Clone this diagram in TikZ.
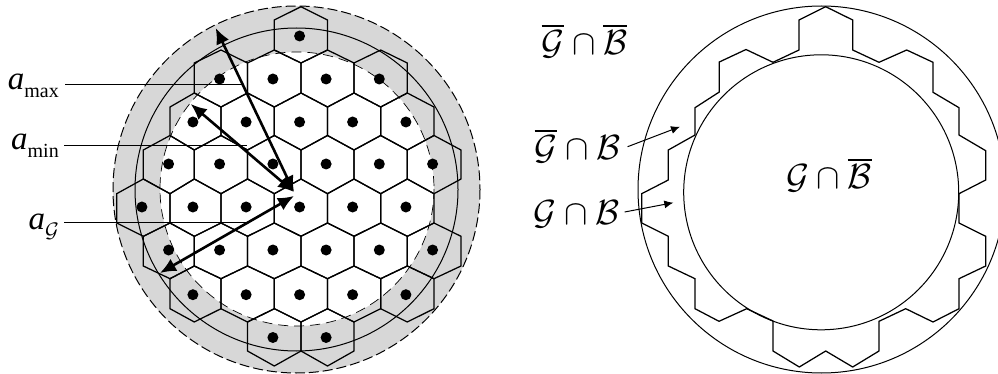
\documentclass[tikz,border=0pt]{standalone}
\usepackage{fix-cm}
\usepackage{amsmath,amssymb}
\usepackage{fontspec}
\setmainfont{Liberation Serif}
\usepackage{tikz}
\usetikzlibrary{arrows.meta}

\definecolor{ringgray}{HTML}{D7D7D7}
\newcommand{\labelfont}{\fontsize{33}{33}\selectfont\itshape}
\newcommand{\symfont}{\fontsize{35}{35}\selectfont}
\newcommand{\lowsub}[1]{\raisebox{-7.5pt}{\fontsize{20}{20}\selectfont\upshape #1}}

\begin{document}
\begin{tikzpicture}[
    x=1pt, y=-1pt,
    >=Latex,
    hexline/.style={line width=1.25pt, line join=miter},
    circ/.style={line width=1pt},
    dashcirc/.style={line width=1pt, dash pattern=on 10pt off 4pt},
    thindash/.style={line width=.7pt, dash pattern=on 10pt off 6pt},
    radius/.style={{Latex[length=16pt,width=14pt]}-{Latex[length=16pt,width=14pt]}, line width=2.6pt},
    leader/.style={line width=1pt},
    pointer/.style={-{Latex[length=9pt,width=8pt]}, line width=1pt},
    dotmark/.style={circle, fill=black, inner sep=0pt, minimum size=11pt},
    lbl/.style={inner sep=0pt, font=\labelfont},
    setlbl/.style={inner sep=0pt, font=\symfont}
]
\path[use as bounding box, clip] (0,0) rectangle (998,374);

% Left disc: shaded ring between the two dashed radii.
\fill[ringgray] (296.5,189.5) circle (183.5);
\fill[white] (297,189) circle (137);
\draw[dashcirc] (296.5,189.5) circle (183.5);
\draw[thindash] (297,189) circle (137);

% Honeycomb cells and their centre dots (column/row of each cell).
\def\colx{{116.7,143.3,170,194.3,221,247.5,274.3,301,327.5,354,380.7,407.3,434,461}}
\def\rowa{{6.7,50,93,135.5,179,223,266,308.7,351}}
\def\rowb{{20,63,107,150,193.7,236.3,278.7,322,366}}
\def\rowd{{36,79,122,164,207,250,294.7,337.5}}
\foreach \c/\k in {7/0,
    4/1,6/1,8/1,10/1,
    3/2,5/2,7/2,9/2,11/2,
    2/3,4/3,6/3,8/3,10/3,12/3,
    1/4,3/4,5/4,7/4,9/4,11/4,
    2/5,4/5,6/5,8/5,10/5,12/5,
    3/6,5/6,7/6,9/6,11/6,
    6/7,8/7}{
  \pgfmathsetmacro{\xl}{\colx[\c-1]}
  \pgfmathsetmacro{\xm}{\colx[\c]}
  \pgfmathsetmacro{\xr}{\colx[\c+1]}
  \pgfmathsetmacro{\ya}{\rowa[\k]}
  \pgfmathsetmacro{\yb}{\rowb[\k]}
  \pgfmathsetmacro{\yc}{\rowa[\k+1]}
  \pgfmathsetmacro{\yd}{\rowb[\k+1]}
  \pgfmathsetmacro{\ydot}{\rowd[\k]}
  \draw[hexline] (\xm,\ya) -- (\xr,\yb) -- (\xr,\yc) -- (\xm,\yd) -- (\xl,\yc) -- (\xl,\yb) -- cycle;
  \node[dotmark] (dot-\c-\k) at (\xm-1.4,\ydot) {};
}
\draw[circ] (296.5,189.5) circle (161.5);

% Radii from the centre of the disc.
\coordinate (centre) at (294,192);
\coordinate (centreG) at (294,196);
\coordinate (tipmax) at (215.7,28);
\coordinate (tipmin) at (190.7,104);
\coordinate (tipG) at (160,273);
\draw[radius] (tipmax) -- (centre);
\draw[radius] (tipmin) -- (centre);
\draw[radius] (tipG) -- (centreG);

% Radius labels.
\node[lbl, anchor=base east] (amax) at (59,90) {a\lowsub{max}};
\node[lbl, anchor=base east] (amin) at (59,150) {a\lowsub{min}};
\node[lbl, anchor=base east] (ag) at (59,229.5) {a\raisebox{-7.5pt}{\fontsize{21}{21}\selectfont$\mathcal{G}$}};
\coordinate (endmax) at (242,85);
\coordinate (endmin) at (247,145.7);
\coordinate (endg) at (248,222.3);
\draw[leader] (amax.east |- endmax) ++(6,0) -- (endmax);
\draw[leader] (amin.east |- endmin) ++(5,0) -- (endmin);
\draw[leader] (ag.east |- endg) ++(5,0) -- (endg);

% Right disc: the same cell outline between two circles.
\draw[circ] (821.5,189.5) circle (183.5);
\draw[circ] (821.2,192.3) circle (137.5);
\draw[hexline] (825.7,6.7) -- (852.7,20) -- (852.7,50) -- (879,62.3) -- (906.7,50) -- (933,62.3)
  -- (933,92.3) -- (959,107.7) -- (959,135) -- (985.7,150.7) -- (985.7,180) -- (959,193.7)
  -- (959,223) -- (985.7,236.3) -- (985.7,266) -- (959,278.7) -- (959,308.7) -- (933,322)
  -- (905.7,308.7) -- (879,321.3) -- (879,351) -- (852.7,367) -- (825.7,351) -- (799.3,367)
  -- (773,351) -- (773,321) -- (746.7,308.7) -- (719,321.3) -- (695,308.7) -- (695,278.7)
  -- (668.3,266) -- (668.3,236.3) -- (641.7,223) -- (641.7,193.7) -- (668.3,180) -- (668.3,150)
  -- (695,135) -- (695,107.7) -- (719.3,92) -- (719.3,62) -- (746,49.5) -- (773,62.3)
  -- (799,50) -- (799,20) -- cycle;

% Region labels.
\node[setlbl, anchor=base] (gbbb) at (584.5,55) {$\overline{\mathcal{G}}\cap\overline{\mathcal{B}}$};
\node[setlbl, anchor=base] (gbb) at (577.5,160) {$\overline{\mathcal{G}}\cap\mathcal{B}$};
\node[setlbl, anchor=base] (gb) at (576.5,224) {$\mathcal{G}\cap\mathcal{B}$};
\node[setlbl, anchor=base] (ggb) at (829,189) {$\mathcal{G}\cap\overline{\mathcal{B}}$};
\coordinate (ptgbb) at (680,126.7);
\coordinate (ptgb) at (673.3,202.7);
\draw[pointer] (gbb.east |- 0,146.7) ++(7,0) -- (ptgbb);
\draw[pointer] (gb.east |- 0,212) ++(5,0) -- (ptgb);

\end{tikzpicture}
\end{document}
